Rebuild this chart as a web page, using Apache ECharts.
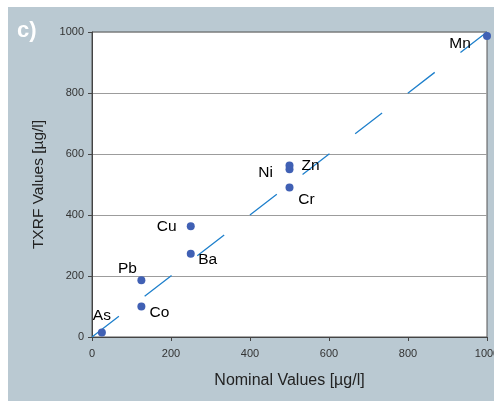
<!DOCTYPE html>
<html>
<head>
<meta charset="utf-8">
<script src="https://cdn.jsdelivr.net/npm/echarts@6/dist/echarts.min.js"></script>
<style>
  html, body { margin: 0; padding: 0; background: #fff; }
  #chart { width: 494px; height: 401px; }
</style>
</head>
<body>
<div id="chart"></div>
<script>
// element names with nominal / measured (TXRF) concentrations
var elements = ['As', 'Co', 'Pb', 'Cu', 'Ba', 'Ni', 'Zn', 'Cr', 'Mn'];
var nominal = [25, 125, 125, 250, 250, 500, 500, 500, 1000];
var txrf = [15, 100, 186, 363, 273, 550, 562, 490, 987];
// 1:1 reference line
var refX = [0, 1000];
var refY = [0, 1000];
var axisTicks = [0, 200, 400, 600, 800, 1000];

// where each element label sits relative to its dot
var labelOffset = {
  As: [0, -17], Co: [18, 6], Pb: [-14, -12], Cu: [-24, 0], Ba: [17, 6],
  Ni: [-24, 3], Zn: [21, 0], Cr: [17, 12], Mn: [-27, 8]
};

var font = 'Liberation Sans, Arial, sans-serif';
var chart = echarts.init(document.getElementById('chart'));

var points = elements.map(function (name, i) {
  return {
    name: name,
    value: [nominal[i], txrf[i]],
    label: { offset: labelOffset[name] }
  };
});

chart.setOption({
  animation: false,
  graphic: [{
    type: 'rect',
    z: -10,
    shape: { x: 8, y: 7, width: 486, height: 394 },
    style: { fill: '#bac9d2' }
  }, {
    type: 'text',
    left: 17,
    top: 20,
    style: { text: 'c)', fill: '#fff', font: 'bold 22px ' + font }
  }],
  grid: {
    left: 92,
    right: 7,
    top: 32,
    bottom: 64,
    outerBoundsMode: 'none',
    containLabel: false,
    show: true,
    backgroundColor: '#fff',
    borderColor: '#555',
    borderWidth: 1
  },
  xAxis: {
    type: 'value',
    min: axisTicks[0],
    max: axisTicks[axisTicks.length - 1],
    interval: 200,
    name: 'Nominal Values [µg/l]',
    nameLocation: 'middle',
    nameGap: 36,
    nameTextStyle: { fontFamily: font, fontSize: 16, color: '#222' },
    axisLine: { lineStyle: { color: '#444' } },
    axisTick: { show: true, length: 4, lineStyle: { color: '#444' } },
    axisLabel: {
      fontFamily: font, fontSize: 11, color: '#333', margin: 11,
      formatter: function (v) { return String(v); }
    },
    splitLine: { show: false }
  },
  yAxis: {
    type: 'value',
    min: axisTicks[0],
    max: axisTicks[axisTicks.length - 1],
    interval: 200,
    name: 'TXRF Values [µg/l]',
    nameLocation: 'middle',
    nameGap: 45,
    nameTextStyle: { fontFamily: font, fontSize: 15.5, color: '#222' },
    axisLine: { show: true, lineStyle: { color: '#444' } },
    axisTick: { show: true, length: 4, lineStyle: { color: '#444' } },
    axisLabel: {
      fontFamily: font, fontSize: 11, color: '#333', margin: 8,
      formatter: function (v) { return String(v); }
    },
    splitLine: { lineStyle: { color: '#9c9c9c', width: 1 } }
  },
  series: [{
    type: 'line',
    data: refX.map(function (x, i) { return [x, refY[i]]; }),
    symbol: 'none',
    lineStyle: { color: '#1f80cc', width: 1.3, type: [34, 32.5] },
    z: 2
  }, {
    type: 'scatter',
    data: points,
    symbolSize: 8,
    itemStyle: { color: '#4060b4', opacity: 1 },
    label: {
      show: true,
      position: 'inside',
      formatter: '{b}',
      fontFamily: font,
      fontSize: 15.5,
      color: '#000'
    },
    z: 3
  }]
});
</script>
</body>
</html>
